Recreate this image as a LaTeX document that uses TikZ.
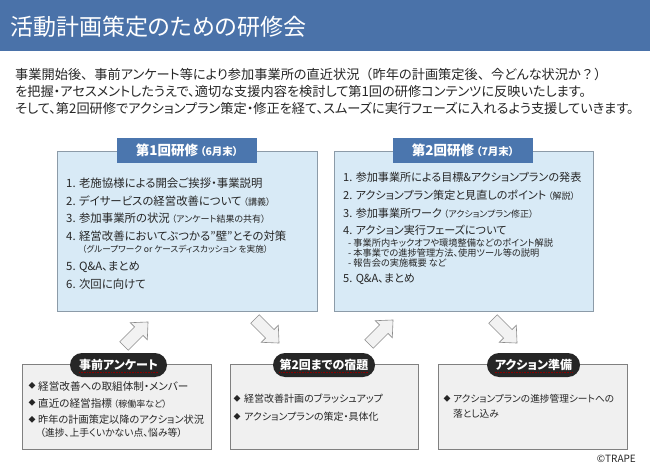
\documentclass[tikz,border=0pt]{standalone}
\usepackage{fontspec}
\setmainfont[RawFeature=+palt]{Noto Sans CJK JP}
\newfontfamily\jpfull{Noto Sans CJK JP}
\newcommand\fsz[1]{\fontsize{#1}{#1}\selectfont}
\newcommand\fw[1]{{\jpfull #1}}
\definecolor{hdrblue}{HTML}{4A72A9}
\definecolor{tabblue}{HTML}{4B76AE}
\definecolor{lblue}{HTML}{D8EAF6}
\definecolor{lborder}{HTML}{8C9BA8}
\definecolor{gfill}{HTML}{F0F0F0}
\definecolor{gborder}{HTML}{808080}
\definecolor{txt}{HTML}{262626}
\definecolor{pillc}{HTML}{262626}
\definecolor{arrfill}{HTML}{F2F2F2}
\definecolor{arrdraw}{HTML}{8C8C8C}
\tikzset{
  intro/.style={anchor=west, inner sep=0pt, text=txt, font=\fsz{13.2}},
  item/.style={anchor=west, inner sep=0pt, text=txt, font=\fsz{11.4}},
  subitem/.style={anchor=west, inner sep=0pt, text=txt, font=\fsz{9.2}},
  bitem/.style={anchor=west, inner sep=0pt, text=txt, font=\fsz{10.6}},
  bluebox/.style={draw=lborder, fill=lblue, line width=0.8pt, anchor=north west, inner sep=0pt},
  bluetab/.style={fill=tabblue, text=white, inner sep=0pt, minimum width=140pt, minimum height=25pt},
  graybox/.style={draw=gborder, fill=gfill, line width=0.8pt, anchor=north west, inner sep=0pt},
  pillbox/.style={fill=pillc, rounded corners=12pt, minimum height=24pt, inner sep=0pt},
  pilltext/.style={text=white, font=\bfseries\fsz{12}, inner sep=0pt},
  redline/.style={draw=red!55!black, densely dotted, line width=0.6pt},
  blockarrow/.style={draw=arrdraw, fill=arrfill, line width=0.6pt, line join=miter},
  dia/.style={inner sep=0pt, text=txt, font=\fsz{7}},
}
\newcommand\blockarr[3]{\draw[blockarrow, shift={(#1,#2)}, rotate=#3]
  (-17,-6) -- (4,-6) -- (4,-12) -- (17,0) -- (4,12) -- (4,6) -- (-17,6) -- cycle;}
\begin{document}
\begin{tikzpicture}[x=1pt,y=-1pt]
\useasboundingbox (0,0) rectangle (650,470);
\fill[white] (0,0) rectangle (650,470);
% header
\fill[hdrblue] (0,0) rectangle (650,51);
\node[anchor=west, inner sep=0pt, text=white, font=\fsz{23}] (title) at (10,27) {活動計画策定のための研修会};
% intro
\node[intro] (l1) at (15,74) {事業開始後\fw{、}事前アンケート等により参加事業所の直近状況\fw{（}昨年の計画策定後\fw{、}今どんな状況か\fw{？）}};
\node[intro] (l2) at (15,91) {を把握・アセスメントしたうえで、適切な支援内容を検討して第1回の研修コンテンツに反映いたします。};
\node[intro] (l3) at (15,108) {そして、第2回研修でアクションプラン策定・修正を経て、スムーズに実行フェーズに入れるよう支援していきます。};
% box 1
\node[bluebox, minimum width=260pt, minimum height=160pt] (b1) at (57,151) {};
\node[bluetab] (t1) at (187,150.5) {\bfseries\fsz{13.5}第1回研修\,{\fsz{10.5}（6月末）}};
\node[item] (a1) at (66,183) {1. 老施協様による開会ご挨拶・事業説明};
\node[item] (a2) at (66,201) {2. デイサービスの経営改善について\,{\fsz{9}（講義）}};
\node[item] (a3) at (66,218) {3. 参加事業所の状況\,{\fsz{9}（アンケート結果の共有）}};
\node[item] (a4) at (66,236) {4. 経営改善においてぶつかる”壁”とその対策};
\node[subitem, font=\fsz{8.6}] (a4s) at (82,249) {（グループワーク or ケースディスカッション を実施）};
\node[item] (a5) at (66,267) {5. Q\&A、まとめ};
\node[item] (a6) at (66,284) {6. 次回に向けて};
% box 2
\node[bluebox, minimum width=259pt, minimum height=160pt] (b2) at (334,151) {};
\node[bluetab] (t2) at (463,150.5) {\bfseries\fsz{13.5}第2回研修\,{\fsz{10.5}（7月末）}};
\node[item, font=\fsz{11.1}] (c1) at (343,177) {1. 参加事業所による目標\&アクションプランの発表};
\node[item, font=\fsz{11.1}] (c2) at (343,195) {2. アクションプラン策定と見直しのポイント\,{\fsz{9}（解説）}};
\node[item, font=\fsz{11.1}] (c3) at (343,213) {3. 参加事業所ワーク\,{\fsz{9}（アクションプラン修正）}};
\node[item, font=\fsz{11.1}] (c4) at (343,230) {4. アクション実行フェーズについて};
\node[subitem] (c4a) at (348,243) {- 事業所内キックオフや環境整備などのポイント解説};
\node[subitem] (c4b) at (348,253) {- 本事業での進捗管理方法、使用ツール等の説明};
\node[subitem] (c4c) at (348,263) {- 報告会の実施概要 など};
\node[item, font=\fsz{11.1}] (c5) at (343,279) {5. Q\&A、まとめ};
% arrows
\blockarr{136}{334}{45}
\blockarr{267}{331}{-45}
\blockarr{381}{332}{45}
\blockarr{505}{331}{-45}
% bottom box A
\node[graybox, minimum width=189pt, minimum height=85pt] (gA) at (22,364) {};
\node[pillbox, minimum width=97pt] (pA) at (118.5,365) {};
\node[pilltext] (pAt) at (118.5,365) {事前アンケート};
\draw[redline] ([yshift=-1.5pt]pAt.south west) -- ([yshift=-1.5pt]pAt.south east);
\node[dia] (dA1) at (32,386) {◆};
\node[bitem] (eA1) at (38,386) {経営改善への取組体制・メンバー};
\node[dia] (dA2) at (32,403) {◆};
\node[bitem] (eA2) at (38,403) {直近の経営指標\,{\fsz{9}（稼働率など）}};
\node[dia] (dA3) at (32,420) {◆};
\node[bitem, font=\fsz{10.2}] (eA3) at (38,420) {昨年の計画策定以降のアクション状況};
\node[bitem, font=\fsz{9.8}] (eA4) at (40,433) {（進捗、上手くいかない点、悩み等）};
% bottom box B
\node[graybox, minimum width=188pt, minimum height=85pt] (gB) at (230,364) {};
\node[pillbox, minimum width=102pt] (pB) at (324,365) {};
\node[pilltext] (pBt) at (324,365) {第2回までの宿題};
\draw[redline] ([yshift=-1.5pt]pBt.south west) -- ([yshift=-1.5pt]pBt.south east);
\node[dia] (dB1) at (237,399) {◆};
\node[bitem, font=\fsz{10}] (eB1) at (244,399) {経営改善計画のブラッシュアップ};
\node[dia] (dB2) at (237,417) {◆};
\node[bitem, font=\fsz{10}] (eB2) at (244,417) {アクションプランの策定・具体化};
% bottom box C
\node[graybox, minimum width=189pt, minimum height=85pt] (gC) at (438,364) {};
\node[pillbox, minimum width=93pt] (pC) at (533.5,365) {};
\node[pilltext] (pCt) at (533.5,365) {アクション準備};
\draw[redline] ([yshift=-1.5pt]pCt.south west) -- ([yshift=-1.5pt]pCt.south east);
\node[dia] (dC1) at (447,399) {◆};
\node[bitem, font=\fsz{9.7}] (eC1) at (453,399) {アクションプランの進捗管理シートへの};
\node[bitem, font=\fsz{9.7}] (eC2) at (453,414) {落とし込み};
% copyright
\node[anchor=east, inner sep=0pt, text=txt, font=\fsz{10}] (copy) at (636,459) {©TRAPE};
\end{tikzpicture}
\end{document}
